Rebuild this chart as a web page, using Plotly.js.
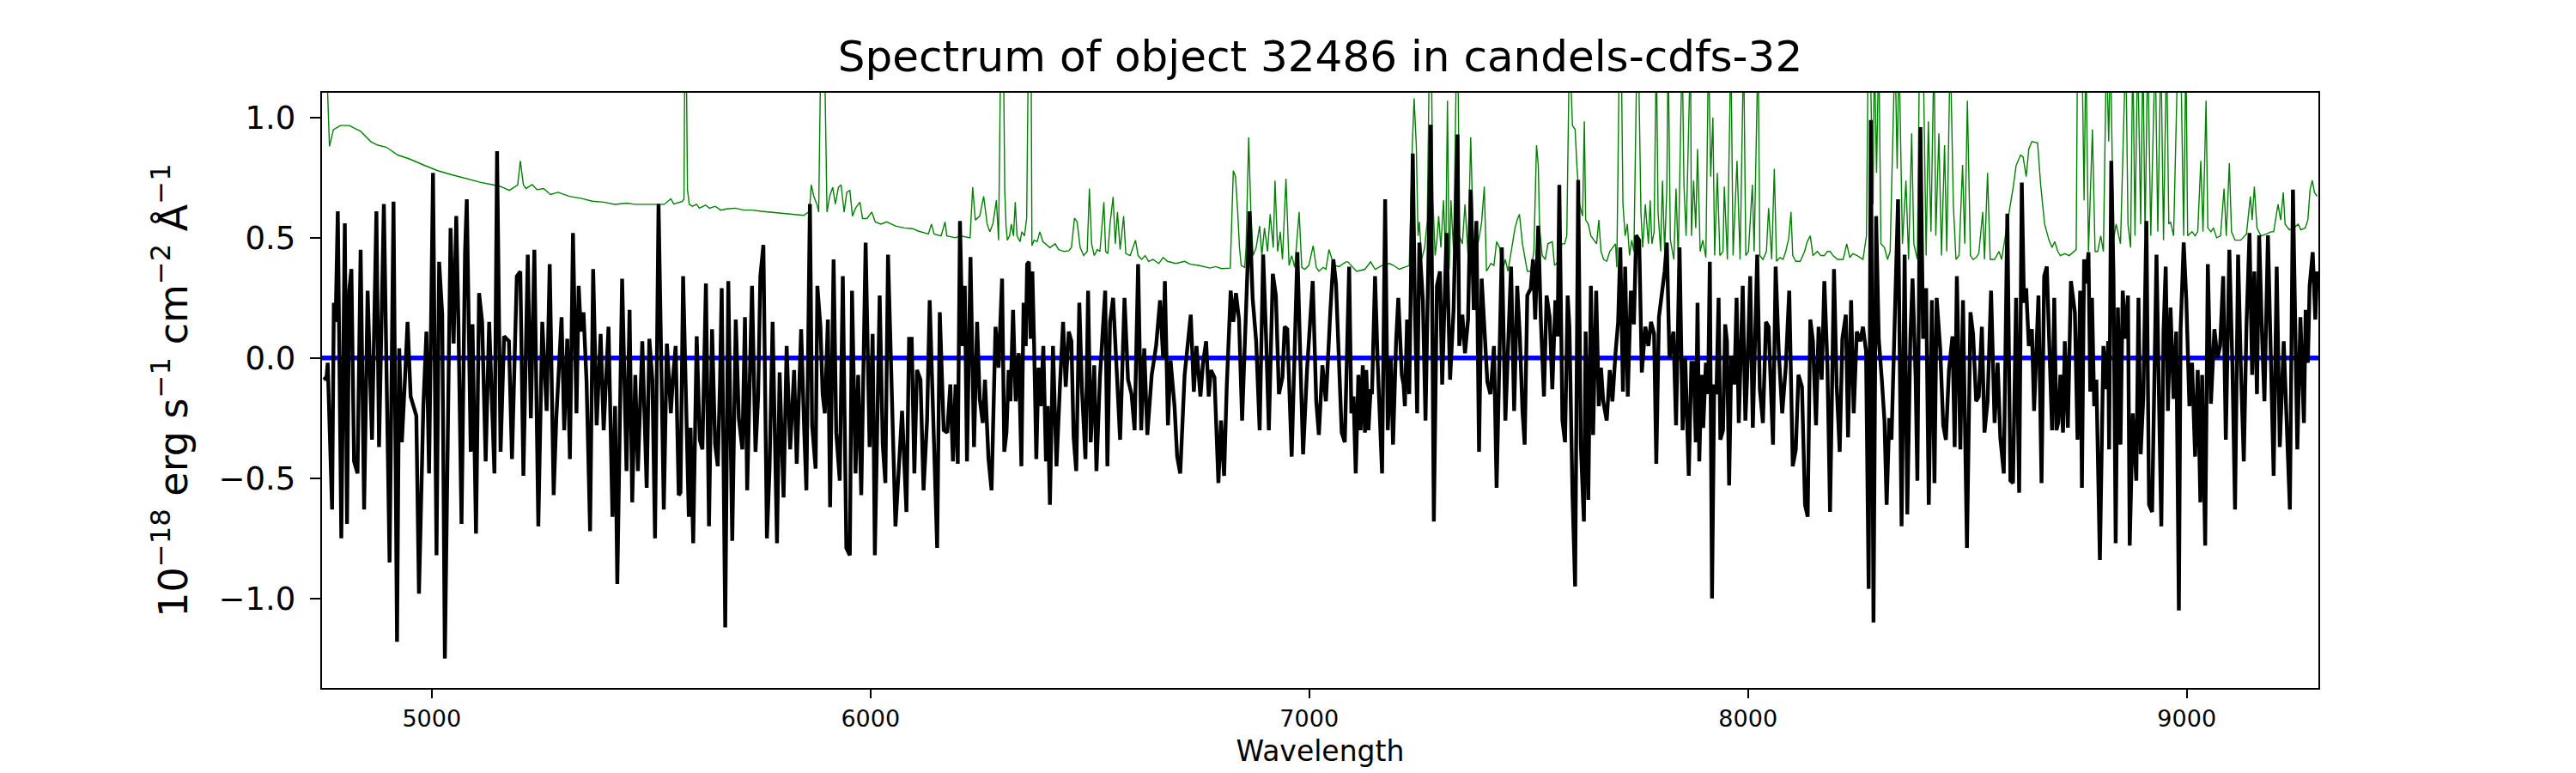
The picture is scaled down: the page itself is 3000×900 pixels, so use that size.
<!DOCTYPE html>
<html>
<head>
<meta charset="utf-8">
<script src="https://cdn.plot.ly/plotly-3.0.1.min.js"></script>
<style>html,body{margin:0;padding:0;background:#fff;}</style>
</head>
<body>
<div id="chart" style="width:3000px;height:900px;"></div>
<script>
const chartTitle = "Spectrum of object 32486 in candels-cdfs-32";
const xLabel = "Wavelength";
const yLabel = "10<sup>−18</sup> erg s<sup>−1</sup> cm<sup>−2</sup> Å<sup>−1</sup>";
const xTicks = [5000, 6000, 7000, 8000, 9000];
const yTicks = [-1.0, -0.5, 0.0, 0.5, 1.0];

// black: object flux
const wavelength = [
4754,4760,4763,4766,4773,4777,4781,4786,4794,4802,4807,4812,4817,4823,4831,4838,4846,4854,4864,4874,4880,4891,4904,4913,4921,4926,4932,4939,4945,4952,4965,4971,4981,4988,4994,5003,5011,5017,5024,5030,5043,5050,5056,5061,5068,5076,5080,5089,5093,5101,5108,5115,5123,5131,5143,5149,5157,5165,5176,5183,5194,5202,5209,5219,5226,5234,5243,5252,5262,5269,5278,5284,5296,5302,5309,5315,5322,5330,5335,5340,5346,5353,5361,5368,5376,5385,5392,5403,5412,5418,5423,5434,5444,5451,5457,5464,5470,5480,5490,5496,5503,5509,5517,
5529,5536,5541,5545,5550,5556,5563,5567,5573,5580,5586,5590,5596,5604,5611,5617,5625,5632,5639,5646,5652,5657,5661,5669,5676,5685,5693,5700,5708,5714,5719,5730,5738,5744,5749,5756,5764,5770,5777,5787,5793,5802,5809,5817,5826,5832,5842,5849,5854,5862,5867,5875,5879,5886,5891,5896,5903,5908,5916,5922,5930,5937,5945,5953,5958,5966,5972,5979,5989,5998,6005,6010,6021,6028,6034,6040,6047,6057,6064,6072,6082,6088,6094,6100,6106,6114,6121,6129,6135,6143,6152,6158,6167,6175,6182,6188,6194,6199,6204,6210,6215,6220,6228,6236,6243,6249,6256,6261,6269,6276,6281,6285,6292,6300,
6305,6310,6315,6319,6325,6331,6338,6344,6349,6354,6357,6361,6365,6369,6373,6378,6383,6388,6394,6400,6404,6409,6416,6424,6432,6439,6445,6452,6458,6463,6469,6476,6482,6490,6496,6502,6510,6515,6523,6535,6540,6546,6553,6559,6569,6579,6587,6595,6602,6610,6617,6624,6631,6641,6651,6660,6667,6671,6678,6684,6693,6699,6706,6716,6722,6730,6737,6743,6752,6758,6765,6771,6776,6784,6793,6799,6806,6812,6821,6827,6833,6840,6847,6856,6864,6871,6879,6887,6895,6902,6908,6917,6924,6931,6939,6944,6950,6960,6967,6973,6980,6986,6995,7001,7008,7016,7022,7030,7038,7048,7055,7061,7067,7074,7081,
7091,7096,7101,7106,7112,7117,7122,7127,7130,7135,7140,7143,7150,7156,7166,7173,7179,7186,7191,7198,7203,7211,7215,7218,7223,7228,7236,7241,7246,7251,7259,7265,7273,7277,7284,7291,7298,7303,7313,7321,7329,7338,7342,7349,7355,7362,7368,7375,7381,7387,7393,7400,7406,7413,7421,7427,7434,7439,7447,7453,7460,7467,7474,7480,7486,7491,7497,7505,7510,7515,7522,7528,7535,7541,7548,7554,7561,7566,7570,7577,7583,7589,7593,7600,7606,7613,7619,7626,7630,7636,7642,7647,7654,7660,7665,7670,7678,7685,7691,7698,7704,7709,7715,7720,7726,7733,7740,7745,7752,7758,7766,7773,7779,7786,7791,7797,7804,7810,7815,7821,7830,7836,7844,7851,7857,7865,
7871,7876,7881,7885,7889,7894,7898,7904,7909,7913,7918,7923,7928,7933,7937,7943,7948,7952,7957,7962,7969,7974,7979,7983,7988,7994,7998,8005,8011,8021,8027,8034,8041,8047,8057,8063,8070,8078,8086,8094,8102,8109,8115,8123,8130,8136,8142,8148,8155,8161,8168,8174,8181,8187,8196,8202,8209,8215,8223,8228,8235,8241,8248,8256,8262,8269,8275,8280,8286,8292,8298,8305,8311,8316,8322,8327,8334,8342,8350,8357,8363,8370,8375,8382,8386,8393,8399,8406,8412,8419,8425,8430,8438,8445,8451,8458,8466,8471,8476,8484,8490,8499,8507,8513,8520,8526,8533,8539,8546,8554,8562,8569,8575,8583,8591,8598,8604,8611,8618,8624,8629,8634,8640,8647,8652,
8662,8669,8675,8681,8686,8693,8698,8703,8707,8712,8718,8722,8729,8736,8745,8751,8757,8761,8766,8771,8776,8780,8784,8789,8794,8802,8810,8815,8821,8823,8828,8833,8838,8843,8849,8854,8861,8866,8870,8877,8885,8890,8895,8901,8908,8914,8921,8926,8931,8937,8942,8947,8952,8957,8963,8970,8976,8982,8986,8993,8999,9006,9012,9019,9025,9031,9035,9042,9048,9055,9063,9070,9076,9083,9089,9097,9104,9110,9117,9123,9130,9136,9143,9149,9154,9160,9165,9172,9177,9185,9192,9198,9205,9212,9221,9227,9235,9242,9252,9259,9267,9271,9276,9280,9287,9293,9297
];
const flux = [
-0.08,-0.09,-0.02,-0.23,-0.63,0.23,0.15,0.61,-0.75,0.56,-0.69,0.28,0.37,-0.43,-0.48,0.45,-0.63,0.28,-0.34,0.61,-0.37,0.64,-0.85,0.65,-1.18,0.04,-0.35,-0.09,0.15,-0.16,-0.24,-0.98,-0.20,0.11,-0.48,0.77,-0.82,0.40,0.18,-1.25,0.54,0.06,0.59,0.14,-0.69,0.44,0.66,-0.39,0.14,-0.73,0.27,0.15,-0.43,0.15,-0.48,0.86,-0.39,0.09,0.07,-0.42,0.34,0.36,-0.49,0.43,-0.25,0.45,-0.70,0.15,-0.22,0.39,-0.57,-0.25,0.17,-0.30,0.08,-0.42,0.52,-0.23,0.30,0.11,0.19,-0.10,-0.72,0.37,-0.28,0.10,-0.30,0.13,-0.66,-0.20,-0.94,0.33,-0.47,0.20,-0.60,-0.07,-0.47,0.07,-0.54,0.08,-0.09,-0.75,0.64,
-0.63,0.06,-0.09,-0.23,-0.08,0.05,-0.57,-0.56,0.34,-0.16,-0.66,-0.29,-0.77,0.09,-0.34,-0.38,0.31,-0.70,0.12,-0.36,-0.45,-0.11,0.29,-1.12,0.32,-0.76,0.16,-0.25,-0.38,0.17,-0.55,0.30,-0.39,-0.16,0.34,0.47,-0.75,-0.46,0.15,-0.77,-0.06,-0.58,0.05,-0.38,-0.05,-0.44,0.12,-0.30,-0.55,0.64,-0.28,-0.46,0.30,0.13,-0.15,-0.23,0.16,-0.62,0.41,-0.31,-0.51,0.34,-0.79,-0.82,0.28,-0.48,-0.07,-0.57,0.48,-0.37,0.10,-0.82,0.26,-0.36,-0.52,0.43,-0.10,-0.70,-0.48,-0.22,-0.64,0.08,0.08,-0.48,-0.05,-0.09,-0.55,-0.26,0.24,-0.25,-0.79,0.19,-0.30,-0.31,-0.11,-0.43,-0.11,-0.44,0.57,0.05,0.30,-0.43,0.42,-0.37,0.15,-0.17,-0.27,-0.09,-0.42,-0.55,-0.21,0.13,-0.04,0.33,
-0.39,-0.31,-0.05,-0.18,0.20,-0.18,0.02,-0.45,0.23,0.05,0.39,0.40,0.08,0.36,0.05,-0.42,-0.04,-0.20,0.05,-0.43,-0.20,-0.61,0.05,-0.45,-0.11,0.15,-0.12,0.11,0.07,-0.33,-0.47,0.23,-0.13,-0.42,0.28,-0.35,-0.03,-0.47,-0.08,0.28,-0.45,0.15,0.25,0.01,-0.34,0.25,-0.09,-0.15,-0.30,0.39,-0.30,0.04,-0.32,-0.07,0.05,0.24,0.00,0.32,-0.28,-0.01,-0.20,-0.41,-0.48,-0.07,0.04,0.18,-0.14,0.05,-0.16,-0.02,0.07,-0.16,-0.05,-0.08,-0.52,-0.26,-0.49,-0.12,0.28,0.15,0.27,0.16,-0.26,0.18,0.61,0.25,0.07,-0.30,0.43,0.07,-0.30,0.35,0.26,-0.15,-0.08,0.13,0.12,-0.41,0.11,0.44,-0.02,-0.40,-0.05,0.13,0.32,-0.18,-0.32,-0.03,-0.18,0.19,0.41,0.31,-0.02,-0.31,-0.35,
0.38,-0.23,-0.16,-0.48,-0.07,-0.30,-0.03,-0.31,-0.05,-0.30,-0.13,-0.15,0.34,-0.02,-0.48,0.66,-0.30,0.00,-0.36,0.07,0.25,-0.07,-0.11,-0.20,0.16,-0.15,0.85,0.20,-0.23,0.48,0.24,-0.26,0.59,0.97,-0.68,0.30,0.36,-0.11,0.52,-0.09,0.20,0.93,0.05,0.18,0.02,0.16,0.70,0.20,0.57,-0.39,0.33,0.11,-0.10,-0.15,0.05,-0.54,0.15,0.46,-0.26,0.05,0.38,-0.22,0.30,0.09,-0.22,-0.36,0.26,0.29,0.41,0.16,0.55,0.15,-0.16,0.26,0.17,-0.13,0.24,0.09,0.72,-0.26,-0.35,0.26,0.13,-0.57,-0.95,0.74,-0.36,-0.68,0.11,-0.59,0.30,-0.32,0.28,-0.20,-0.04,-0.18,-0.26,-0.05,-0.18,0.02,0.15,0.46,-0.14,0.38,-0.16,0.28,0.14,0.51,0.49,-0.06,0.13,0.05,0.15,0.10,-0.44,0.17,0.26,0.36,0.48,0.00,0.11,-0.28,0.46,-0.30,0.00,-0.49,
-0.02,-0.02,-0.35,0.23,-0.43,-0.07,-0.29,-0.02,-0.15,0.40,-1.00,-0.11,-0.15,0.25,-0.34,-0.30,0.14,0.07,-0.53,0.01,-0.11,0.25,-0.27,0.03,0.30,-0.26,-0.08,0.34,-0.29,0.43,-0.13,-0.27,0.15,0.13,-0.36,0.38,0.03,-0.23,-0.04,0.28,-0.45,-0.38,-0.07,-0.12,-0.61,-0.66,0.16,0.07,-0.28,0.13,-0.09,0.32,-0.03,-0.64,0.37,-0.11,-0.39,0.08,0.18,-0.33,0.24,-0.23,0.11,0.07,0.13,0.03,-0.96,0.99,-1.10,0.59,0.08,-0.09,-0.26,-0.61,-0.25,-0.34,0.20,0.66,-0.70,0.43,-0.65,0.08,0.33,-0.08,-0.51,0.96,0.08,0.29,-0.61,0.24,-0.52,0.25,0.04,-0.28,-0.34,-0.05,0.09,-0.37,0.34,-0.38,0.24,-0.79,0.19,0.10,-0.18,-0.16,0.13,-0.31,-0.18,0.28,-0.27,-0.02,-0.33,-0.48,0.60,-0.51,-0.52,0.25,-0.56,0.73,0.23,0.29,0.05,0.12,-0.22,
0.26,-0.52,0.34,0.38,0.07,-0.30,0.25,-0.30,-0.27,-0.07,-0.31,0.07,-0.29,0.32,0.19,-0.34,0.28,-0.54,0.41,0.31,0.44,-0.14,0.25,-0.20,-0.09,-0.84,0.05,-0.13,0.07,-0.38,0.82,0.34,-0.77,0.21,-0.36,0.28,0.08,0.26,-0.78,-0.23,-0.51,0.25,-0.40,-0.16,0.57,-0.61,-0.64,-0.02,0.43,-0.20,-0.70,0.11,0.38,-0.22,0.21,-0.17,0.11,-1.05,0.12,0.48,0.24,-0.20,-0.02,-0.41,-0.05,-0.60,-0.07,-0.78,0.39,-0.19,0.12,0.00,0.05,0.34,-0.34,0.45,-0.03,-0.63,0.43,-0.02,-0.43,0.13,0.52,-0.07,0.36,-0.15,0.51,0.07,-0.18,0.51,0.02,-0.49,0.38,-0.37,0.07,-0.23,-0.63,0.70,-0.38,0.17,-0.27,0.20,-0.02,0.30,0.44,0.16,0.36
];

// green: noise / sky spectrum
const noiseWave = [
4750,4761,4767,4776,4792,4812,4838,4861,4877,4896,4923,4949,4981,5014,5046,5079,5112,5138,5157,5177,5190,5196,5202,5209,5215,5229,5240,5255,5271,5288,5314,5340,5366,5392,5418,5444,5463,5495,5522,
5530,5545,5552,5561,5571,5575,5577,5580,5583,5587,5594,5604,5610,5624,5633,5646,5659,5672,5692,5712,5731,5751,5770,5796,5822,5848,5861,5865,5871,5878,5882,5887,5895,5898,5901,5907,5914,5920,5927,5933,5940,5946,5953,5959,5966,5976,5982,5992,6003,6011,6024,6037,6057,6077,6096,6109,6132,6139,6145,6161,6170,6174,6194,6204,6227,6233,6239,6249,6258,6266,6272,6279,6287,6292,6297,6303,
6306,6309,6312,6317,6321,6326,6330,6334,6341,6345,6351,6356,6360,6366,6368,6373,6380,6386,6393,6409,6416,6421,6429,6442,6452,6458,6465,6471,6478,6486,6494,6499,6504,6510,6517,6523,6532,6536,6541,6546,6553,6558,6563,6569,6577,6582,6592,6604,6610,6618,6626,6634,6644,6657,6667,6677,6696,6716,6729,6748,6774,6787,6800,6820,6827,6832,6837,6841,6845,6853,6856,6862,6867,6872,6879,6887,6892,6898,6905,6911,6918,6922,6928,6934,6939,6947,6954,6960,6967,6971,6977,6983,6990,6999,7004,7009,7016,7022,7032,7038,7045,7052,7058,7068,7078,7084,
7088,7108,7127,7140,7150,7166,7183,7192,7205,7218,7228,7235,7239,7244,7248,7251,7256,7263,7269,7274,7278,7282,7287,7291,7295,7300,7306,7311,7315,7319,7323,7329,7336,7339,7342,7349,7355,7362,7368,7375,7381,7388,7393,7399,7404,7414,7421,7427,7434,7440,7447,7453,7463,7469,7474,7479,7486,7492,7497,7505,7512,7518,7522,7525,7531,7538,7544,7554,7559,7564,7570,7576,7582,7587,7593,7600,7606,7610,7616,7623,7627,7630,7636,7642,7649,7655,7660,7665,7671,7678,7685,7691,7698,7701,7707,7711,7715,7720,7725,7730,7735,7740,7747,7750,7753,7756,7760,7766,7773,7777,7781,7786,7791,7795,7801,7805,7810,7815,7818,7823,7831,7836,7841,7850,7854,7859,7864,7869,
7871,7876,7881,7885,7891,7897,7904,7910,7915,7920,7924,7930,7936,7943,7946,7953,7961,7966,7975,7982,7990,7995,8001,8010,8014,8023,8027,8034,8042,8047,8054,8060,8065,8073,8080,8086,8093,8098,8102,8109,8119,8129,8135,8142,8148,8158,8166,8174,8181,8187,8194,8204,8217,8225,8232,8239,8249,8262,8270,8274,8278,8285,8288,8293,8298,8303,8311,8318,8324,8335,8340,8344,8352,8360,8366,8373,8378,8386,8391,8399,8406,8411,8417,8424,8428,8435,8441,8448,8453,8461,8468,8474,8481,8489,8494,8500,8507,8513,8520,8526,8535,8539,8546,8552,8562,8572,8578,8585,8591,8598,8604,8611,8621,8627,8634,8640,8647,
8660,8667,8676,8686,8693,8699,8706,8712,8722,8732,8742,8748,8751,8761,8766,8770,8776,8785,8791,8797,8804,8810,8817,8822,8826,8833,8839,8849,8861,8866,8872,8877,8882,8888,8895,8900,8905,8911,8918,8928,8934,8941,8947,8954,8959,8963,8970,8980,8986,8993,8998,9002,9012,9019,9025,9032,9037,9044,9048,9055,9061,9068,9077,9085,9090,9097,9102,9110,9123,9136,9145,9149,9154,9160,9169,9182,9192,9198,9208,9214,9220,9224,9234,9244,9254,9260,9270,9276,9281,9286,9291,9297
];
const noiseFlux = [
1.30,1.20,0.88,0.95,0.967,0.967,0.943,0.90,0.885,0.877,0.844,0.828,0.803,0.779,0.762,0.746,0.730,0.721,0.713,0.697,0.713,0.72,0.82,0.72,0.705,0.721,0.70,0.705,0.68,0.689,0.672,0.664,0.652,0.648,0.639,0.644,0.639,0.64,0.639,
0.639,0.662,0.64,0.646,0.651,0.66,1.30,1.30,0.70,0.639,0.631,0.639,0.623,0.636,0.623,0.631,0.615,0.62,0.623,0.615,0.615,0.610,0.607,0.603,0.598,0.593,0.61,0.72,0.672,0.639,0.607,1.30,1.30,0.90,0.607,0.672,0.71,0.64,0.71,0.72,0.607,0.689,0.697,0.59,0.623,0.648,0.58,0.58,0.607,0.566,0.557,0.566,0.549,0.541,0.538,0.528,0.516,0.557,0.516,0.508,0.566,0.508,0.50,0.508,0.50,0.71,0.574,0.59,0.672,0.557,0.525,0.557,0.656,0.49,1.30,1.30,
0.70,0.55,0.49,0.508,0.557,0.508,0.648,0.508,0.484,0.525,0.508,0.582,1.30,1.30,0.467,0.49,0.484,0.525,0.484,0.459,0.467,0.475,0.451,0.443,0.446,0.459,0.582,0.566,0.459,0.426,0.443,0.705,0.475,0.426,0.451,0.443,0.648,0.443,0.434,0.557,0.67,0.475,0.607,0.451,0.59,0.434,0.426,0.49,0.426,0.41,0.426,0.402,0.41,0.393,0.418,0.402,0.393,0.402,0.39,0.385,0.374,0.38,0.372,0.374,0.779,0.754,0.607,0.459,0.385,0.377,0.459,0.918,0.607,0.426,0.459,0.549,0.426,0.541,0.443,0.598,0.459,0.738,0.443,0.525,0.41,0.746,0.385,0.426,0.377,0.475,0.607,0.377,0.369,0.385,0.426,0.467,0.377,0.361,0.377,0.369,0.451,0.41,0.385,0.38,0.393,0.40,
0.40,0.36,0.369,0.40,0.369,0.385,0.393,0.385,0.369,0.377,0.385,0.885,1.08,0.885,0.508,0.566,0.41,0.459,0.57,1.30,1.30,0.656,0.426,0.49,0.59,0.459,0.656,0.41,1.07,0.369,0.656,0.443,1.30,1.30,0.508,0.475,0.639,0.426,0.918,0.426,0.443,0.508,0.566,0.713,0.361,0.393,0.385,0.484,0.459,0.361,0.41,0.361,0.475,0.541,0.574,0.598,0.475,0.41,0.361,0.361,0.443,0.885,0.803,0.541,0.426,0.41,0.475,0.484,0.385,0.393,0.41,0.475,0.475,0.508,1.30,0.967,0.95,0.80,0.639,0.59,0.984,0.574,0.557,0.508,0.49,0.475,0.574,0.443,0.41,0.402,0.443,0.459,0.475,0.377,1.30,1.30,0.639,0.508,0.557,0.426,0.49,0.443,1.30,1.30,0.885,0.607,0.459,0.639,0.475,0.656,0.475,0.525,1.30,0.607,0.443,0.738,0.443,0.705,1.30,0.492,0.41,0.705,0.41,1.30,0.721,0.508,0.90,1.30,
0.508,0.738,0.541,0.869,0.443,0.49,0.418,1.30,0.754,1.0,0.426,0.77,0.426,0.443,0.713,0.41,1.30,0.426,0.82,0.41,1.30,0.426,0.443,0.721,0.443,1.30,0.426,0.41,0.443,0.623,0.41,0.787,0.402,0.418,0.41,0.443,0.50,0.607,0.426,0.402,0.402,0.443,0.484,0.508,0.426,0.443,0.426,0.426,0.443,0.443,0.426,0.41,0.41,0.475,0.418,0.434,0.426,0.41,0.508,1.30,1.30,0.639,1.30,0.77,1.30,0.475,0.459,0.41,0.443,1.30,0.787,1.30,0.475,0.738,0.41,0.934,0.475,0.41,1.30,1.30,0.426,0.984,0.525,1.30,0.508,0.934,0.426,0.885,0.443,1.30,0.639,0.41,0.426,0.803,0.475,1.07,0.426,0.41,0.418,0.434,0.607,0.41,0.77,0.41,0.41,0.443,0.41,0.49,0.574,0.639,0.705,0.80,0.844,0.836,0.754,0.869,0.90,
0.895,0.721,0.557,0.49,0.459,0.484,0.443,0.426,0.434,0.426,0.443,0.451,1.30,1.30,0.656,1.30,0.443,0.95,0.443,0.443,0.508,0.443,1.30,0.90,1.30,0.492,0.557,0.475,1.30,0.557,0.459,1.30,0.508,1.30,0.557,1.30,0.508,1.30,0.508,1.30,0.525,1.30,0.49,1.30,0.557,0.566,0.508,1.30,1.30,0.508,1.30,0.508,0.525,0.508,0.525,0.82,0.525,1.07,0.541,0.525,0.541,0.50,0.508,0.705,0.508,0.81,0.525,0.49,0.49,0.516,0.672,0.574,0.713,0.541,0.508,0.516,0.525,0.525,0.639,0.574,0.689,0.557,0.533,0.541,0.557,0.533,0.541,0.574,0.70,0.738,0.689,0.672
];

// blue: zero level
const zeroWave = [4750, 9300];
const zeroFlux = [0, 0];

const font = "DejaVu Sans, Liberation Sans, sans-serif";

const traces = [
  {x: noiseWave, y: noiseFlux, type: "scatter", mode: "lines",
   line: {color: "#008000", width: 1.4}, hoverinfo: "skip"},
  {x: zeroWave, y: zeroFlux, type: "scatter", mode: "lines",
   line: {color: "#0000ff", width: 5.5}, hoverinfo: "skip"},
  {x: wavelength, y: flux, type: "scatter", mode: "lines",
   line: {color: "#000000", width: 4.4}, hoverinfo: "skip"}
];

const layout = {
  width: 3000, height: 900,
  margin: {l: 375, r: 300, t: 108, b: 99, pad: 0},
  paper_bgcolor: "#ffffff", plot_bgcolor: "#ffffff",
  showlegend: false,
  font: {family: font, color: "#000000"},
  title: {text: chartTitle, font: {family: font, size: 50, color: "#000000"},
          x: 0.5125, xanchor: "center", yref: "container", y: 0.927, yanchor: "middle"},
  xaxis: {
    range: [4750, 9300], tickvals: xTicks, tickformat: "d",
    showgrid: false, zeroline: false,
    showline: true, mirror: true, linecolor: "#000000", linewidth: 2.2,
    ticks: "outside", ticklen: 10, tickwidth: 2.2, tickcolor: "#000000",
    tickfont: {family: font, size: 27, color: "#000000"},
    title: {text: xLabel, font: {family: font, size: 33, color: "#000000"}, standoff: 12}
  },
  yaxis: {
    range: [-1.372, 1.103], tickvals: yTicks, tickformat: ".1f",
    showgrid: false, zeroline: false,
    showline: true, mirror: true, linecolor: "#000000", linewidth: 2.2,
    ticks: "outside", ticklen: 12, tickwidth: 2.2, tickcolor: "#000000",
    ticklabelstandoff: 9,
    tickfont: {family: font, size: 37, color: "#000000"},
    title: {text: yLabel, font: {family: font, size: 46, color: "#000000"}, standoff: 22}
  }
};

Plotly.newPlot("chart", traces, layout, {displayModeBar: false, staticPlot: true});
</script>
</body>
</html>
